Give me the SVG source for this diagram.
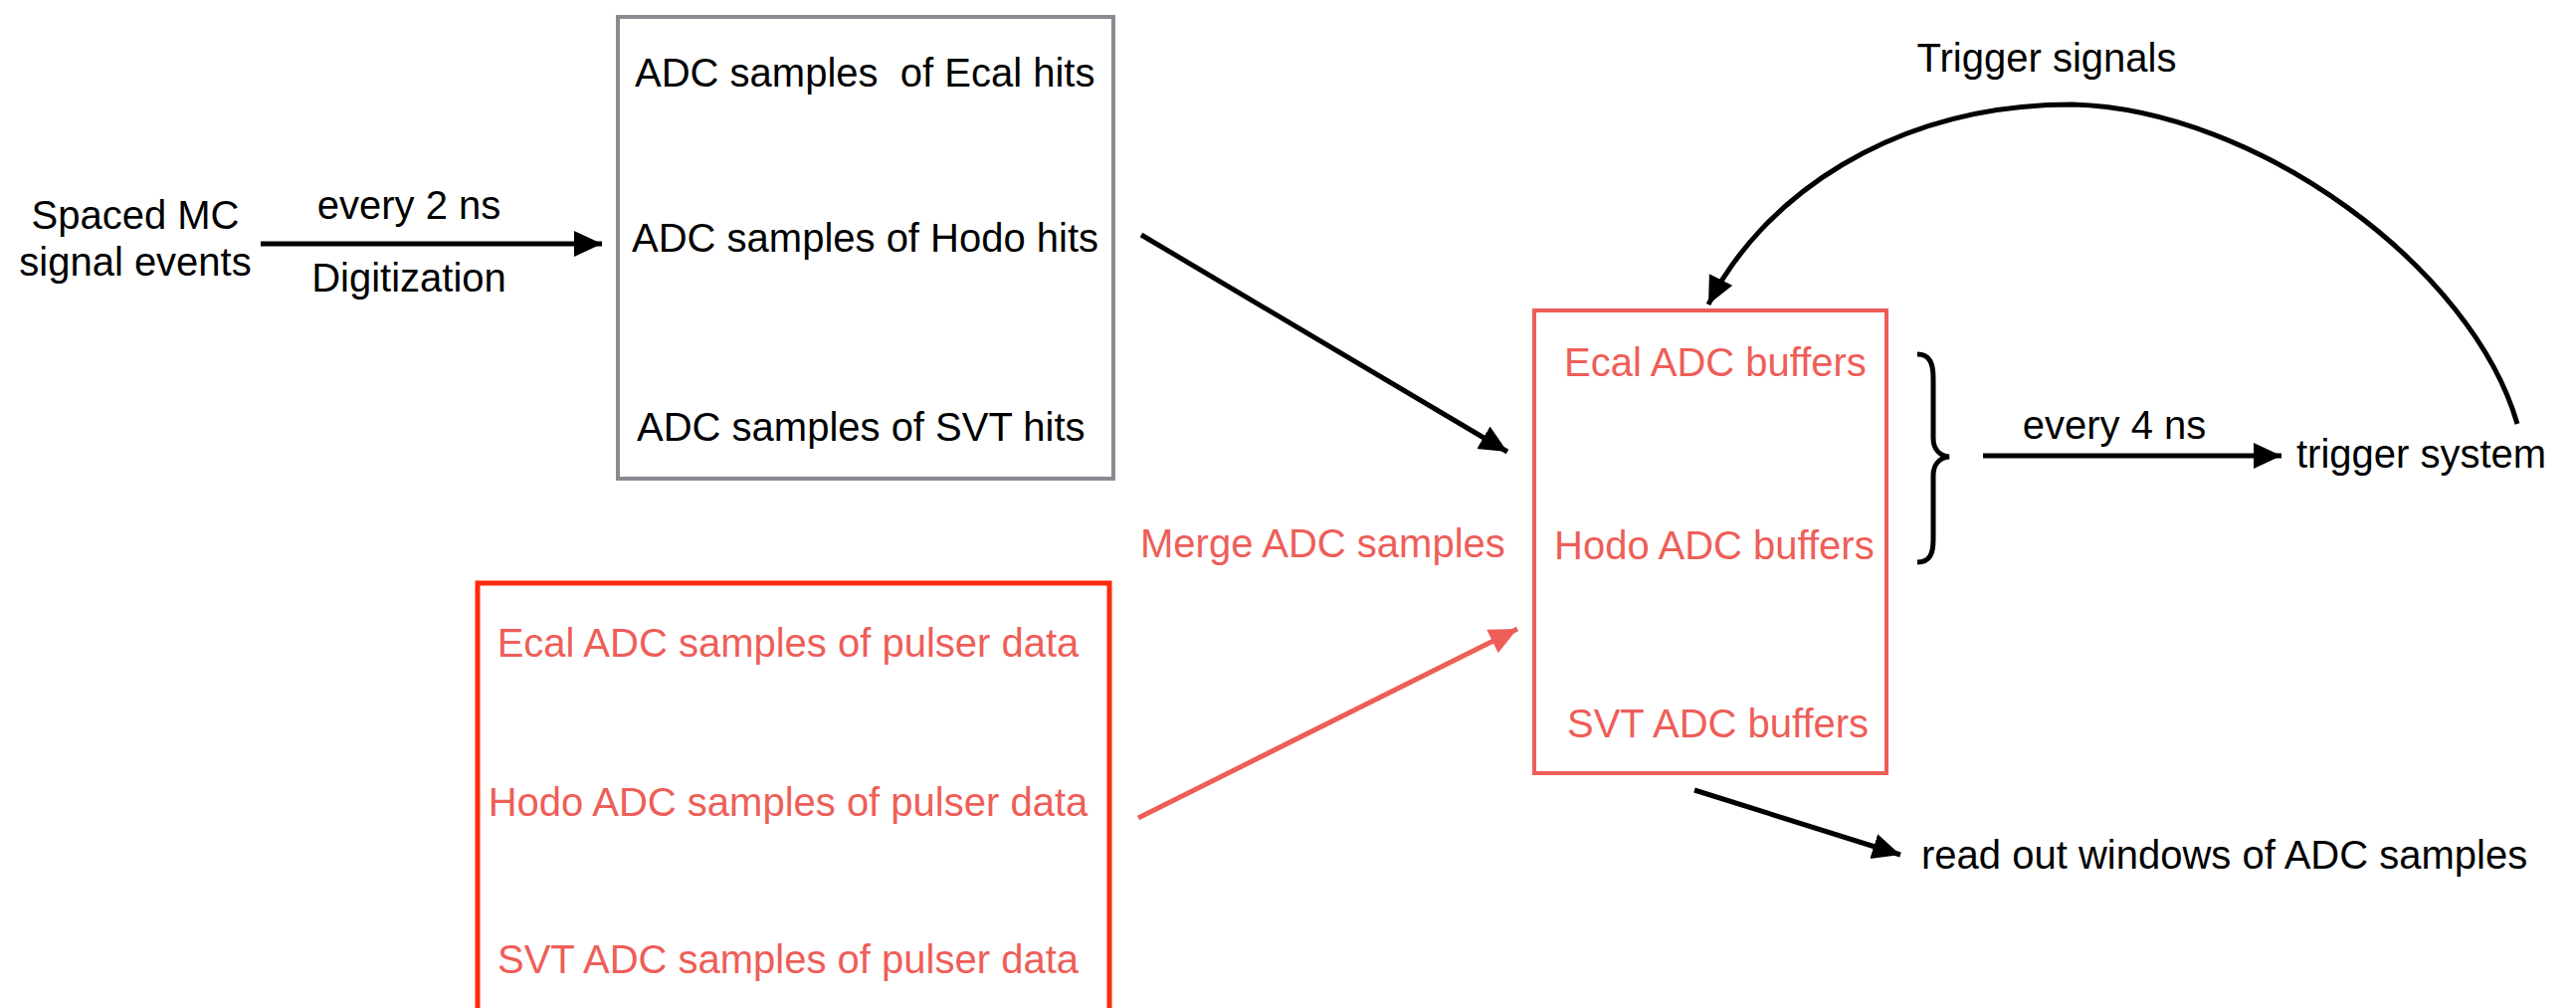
<svg xmlns="http://www.w3.org/2000/svg" width="2589" height="1013" viewBox="0 0 2589 1013">
<style>
text{font-family:"Liberation Sans",Arial,sans-serif;font-size:40px}
.k{fill:#000}
.r{fill:#ee5e58}
.c{text-anchor:middle}
.box{fill:none}
.ln{fill:none;stroke:#000;stroke-width:5}
.lr{fill:none;stroke:#ee5e58;stroke-width:5}
</style>
<defs>
<marker id="ak" markerUnits="userSpaceOnUse" markerWidth="30" markerHeight="28" refX="28" refY="13" orient="auto" viewBox="0 0 30 28">
<path d="M0,0 L28,13 L0,26 z" fill="#000"/>
</marker>
<marker id="ar" markerUnits="userSpaceOnUse" markerWidth="30" markerHeight="28" refX="28" refY="13" orient="auto" viewBox="0 0 30 28">
<path d="M0,0 L28,13 L0,26 z" fill="#ee5e58"/>
</marker>
</defs>

<g id="source">
<text class="k c" x="136" y="230">Spaced MC</text>
<text class="k c" x="136" y="277">signal events</text>
</g>

<g id="mc-adc">
<rect class="box" x="621" y="17" width="498" height="464" stroke="#8a8a90" stroke-width="4"/>
<text class="k" x="638" y="87" xml:space="preserve">ADC samples  of Ecal hits</text>
<text class="k" x="635" y="253">ADC samples of Hodo hits</text>
<text class="k" x="640" y="443">ADC samples of SVT hits</text>
</g>

<g id="pulser">
<rect class="box" x="480" y="586" width="635" height="500" stroke="#ff2a0a" stroke-width="5"/>
<text class="r c" x="792" y="660">Ecal ADC samples of pulser data</text>
<text class="r c" x="792" y="820">Hodo ADC samples of pulser data</text>
<text class="r c" x="792" y="978">SVT ADC samples of pulser data</text>
</g>

<g id="buffers">
<rect class="box" x="1542" y="312" width="354" height="465" stroke="#ee5e58" stroke-width="4"/>
<text class="r" x="1572" y="378">Ecal ADC buffers</text>
<text class="r" x="1562" y="562">Hodo ADC buffers</text>
<text class="r" x="1575" y="741">SVT ADC buffers</text>
</g>

<g id="trigger">
<text class="k" x="2308" y="470">trigger system</text>
</g>

<g id="readout">
<text class="k" x="1931" y="873">read out windows of ADC samples</text>
</g>

<g id="connectors">
<line class="ln" x1="262" y1="245" x2="605" y2="245" marker-end="url(#ak)"/>
<text class="k c" x="411" y="220">every 2 ns</text>
<text class="k c" x="411" y="293">Digitization</text>

<line class="ln" x1="1147" y1="236" x2="1515" y2="454" marker-end="url(#ak)"/>
<line class="lr" x1="1144" y1="822" x2="1525" y2="632" marker-end="url(#ar)"/>
<text class="r" x="1146" y="560">Merge ADC samples</text>

<path class="ln" d="M1927,356 C1940,356 1943,366 1943,380 L1943,440 C1943,452 1950,458 1959,459 C1950,460 1943,466 1943,478 L1943,542 C1943,556 1940,565 1927,565"/>
<line class="ln" x1="1993" y1="458" x2="2293" y2="458" stroke-width="6" marker-end="url(#ak)"/>
<text class="k c" x="2125" y="441">every 4 ns</text>

<path class="ln" d="M2530,426 C2485,270 2270,110 2083,105 C1900,105 1770,200 1717,306" marker-end="url(#ak)"/>
<text class="k c" x="2057" y="72">Trigger signals</text>

<line class="ln" x1="1703" y1="794" x2="1910" y2="859" marker-end="url(#ak)"/>
</g>
</svg>
